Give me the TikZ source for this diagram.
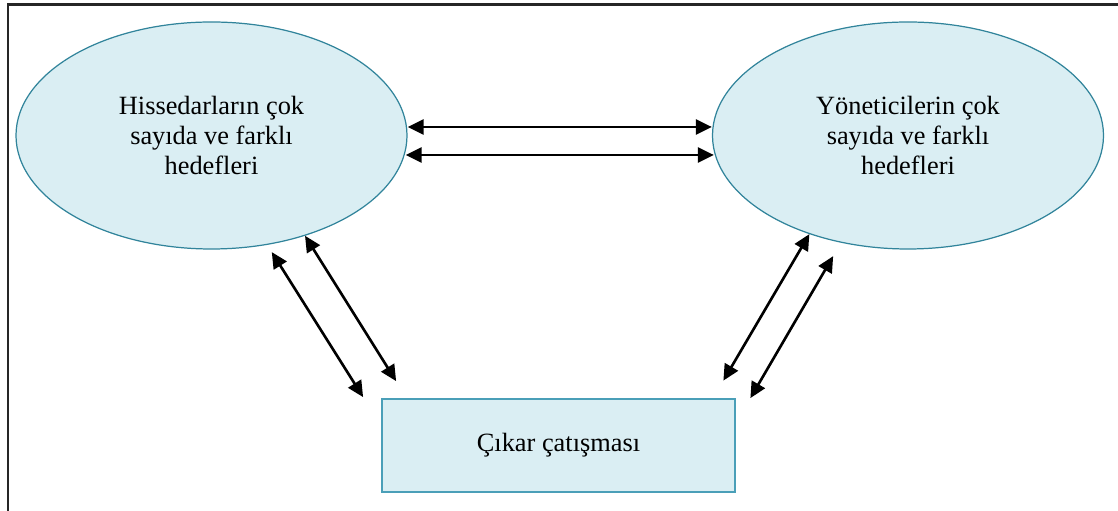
\documentclass[tikz,border=0pt]{standalone}
\usepackage{fontspec}
\setmainfont{Liberation Serif}
\usepackage{tikz}
\usetikzlibrary{shapes.geometric, arrows.meta, positioning, calc}
\definecolor{paleaqua}{HTML}{DAEEF3}
\definecolor{tealedge}{HTML}{31849B}
\definecolor{boxedge}{HTML}{4A9FB8}

\begin{document}
\begin{tikzpicture}[
  goal/.style={ellipse, minimum width=7.82cm, minimum height=4.54cm,
               inner sep=0pt, align=center, fill=paleaqua, draw=tealedge,
               line width=0.7pt, font=\fontsize{15}{17}\selectfont},
  clash/.style={rectangle, minimum width=7.06cm, minimum height=1.86cm,
                align=center, fill=paleaqua, draw=boxedge, line width=1pt,
                font=\fontsize{15}{17}\selectfont},
  dbl/.style={{Triangle[length=0.32cm, width=0.3cm]}-{Triangle[length=0.32cm, width=0.3cm]},
              line width=1.5pt},
  frame/.style={line width=1.2pt, black!85},
]
  \useasboundingbox (0,0) rectangle (22.36,10.22);
  \draw[frame] (0.16,0) -- (0.16,10.13) -- (22.36,10.13);

  \node[goal] (hs) at (4.23,7.51) {Hissedarların çok\\sayıda ve farklı\\hedefleri};
  \node[goal] (ys) at (18.16,7.51) {Yöneticilerin çok\\sayıda ve farklı\\hedefleri};
  \node[clash] (cc) at (11.17,1.31) {Çıkar çatışması};

  % top pair
  \draw[dbl] ([yshift=0.17cm]hs.east) -- ([yshift=0.17cm]ys.west);
  \draw[dbl] ([xshift=-0.04cm,yshift=-0.39cm]hs.east) -- ([xshift=0.04cm,yshift=-0.39cm]ys.west);

  % left pair
  \draw[dbl, shorten >=0.17cm] ($(cc.north west)+(-0.36,0.02)$) -- (hs.-63.4);
  \draw[dbl] ($(cc.north west)+(0.30,0.34)$) -- (hs.-47.4);

  % right pair
  \draw[dbl] ($(cc.north east)+(-0.25,0.35)$) -- (ys.225.6);
  \draw[dbl, shorten >=0.31cm] ($(cc.north east)+(0.29,0.0)$) -- (ys.238.7);
\end{tikzpicture}
\end{document}
